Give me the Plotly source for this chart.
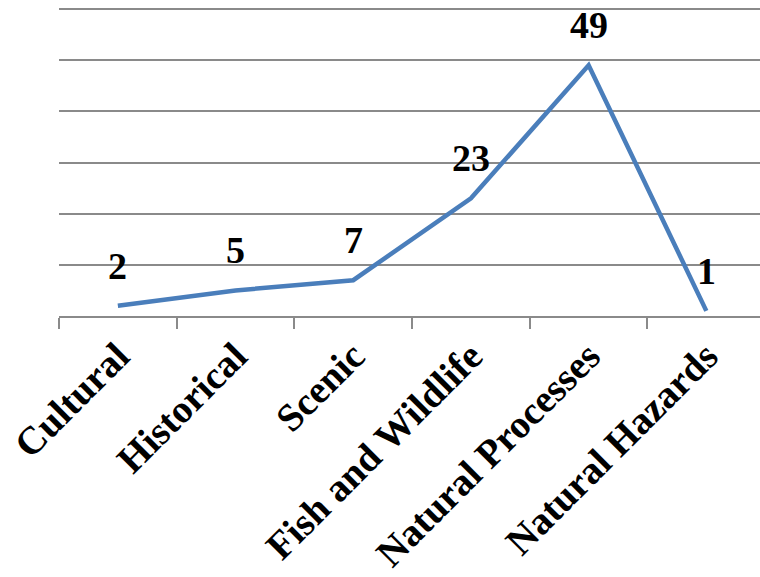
import plotly.graph_objects as go

categories = ["Cultural", "Historical", "Scenic", "Fish and Wildlife",
              "Natural Processes", "Natural Hazards"]
counts = [2, 5, 7, 23, 49, 1]

FONT = "Liberation Serif"
GRID = "#8a8a8a"

fig = go.Figure()
fig.add_trace(go.Scatter(
    x=categories, y=counts, mode="lines",
    line=dict(color="#4a7ebb", width=4.5),
    hoverinfo="skip", showlegend=False,
))

# value labels above each point
for c, v in zip(categories, counts):
    fig.add_annotation(
        x=c, y=v, text=f"<b>{v}</b>", showarrow=False,
        yshift=40, font=dict(family=FONT, size=38, color="black"),
    )

fig.update_layout(
    width=760, height=577,
    margin=dict(l=59, r=0, t=4, b=261),
    paper_bgcolor="white", plot_bgcolor="white",
    font=dict(family=FONT, size=38, color="black"),
)
fig.update_xaxes(
    type="category", range=[-0.5, 5.456],
    tickson="boundaries", ticks="outside", ticklen=11, tickwidth=1.5,
    tickcolor=GRID, showgrid=False,
    showline=True, linecolor=GRID, linewidth=1.5,
    tickangle=-45, tickfont=dict(family=FONT, size=39, color="black"),
    ticktext=[f"<b>{c}</b>" for c in categories], tickvals=categories,
)
fig.update_yaxes(
    range=[0, 61], tickvals=[10, 20, 30, 40, 50, 60],
    showgrid=True, gridcolor=GRID, gridwidth=1.5,
    showticklabels=False, zeroline=False, showline=False,
)

fig.write_html("out.html")
